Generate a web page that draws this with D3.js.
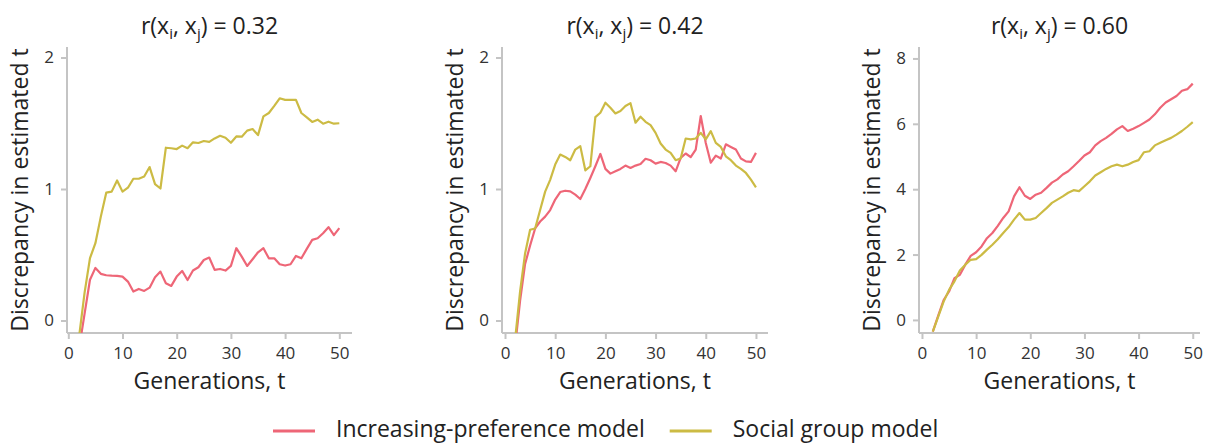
<!DOCTYPE html>
<html>
<head>
<meta charset="utf-8">
<script src="https://cdn.jsdelivr.net/npm/d3@7"></script>
<style>
  html, body { margin: 0; padding: 0; background: #fff; }
  svg { display: block; font-family: "Open Sans", Lato, sans-serif; }
</style>
</head>
<body>
<svg id="chart" width="1211" height="446"></svg>
<script>
// Generations shown on the x axis
const generations = d3.range(2, 51);

// Panel titles: correlation between traits
const correlations = ["0.32", "0.42", "0.60"];

// Series names and colours
const seriesNames = ["Increasing-preference model", "Social group model"];
const seriesColors = ["#EE6677", "#CCBB44"];

// Discrepancy in estimated t, r = 0.32
const pref032 = [-0.21, 0.05, 0.31, 0.40, 0.355, 0.344, 0.341, 0.339, 0.334, 0.296,
  0.22, 0.24, 0.225, 0.25, 0.329, 0.372, 0.283, 0.263, 0.334, 0.377,
  0.308, 0.38, 0.405, 0.46, 0.479, 0.385, 0.392, 0.38, 0.415, 0.55,
  0.486, 0.415, 0.466, 0.519, 0.55, 0.473, 0.473, 0.428, 0.418, 0.428,
  0.491, 0.473, 0.545, 0.613, 0.626, 0.664, 0.71, 0.649, 0.702];
const social032 = [-0.12, 0.21, 0.474, 0.588, 0.79, 0.972, 0.98, 1.065, 0.98, 1.01,
  1.078, 1.078, 1.095, 1.167, 1.037, 1.004, 1.314, 1.31, 1.304, 1.33,
  1.31, 1.355, 1.35, 1.365, 1.358, 1.385, 1.405, 1.39, 1.352, 1.40,
  1.398, 1.444, 1.456, 1.41, 1.552, 1.578, 1.632, 1.69, 1.678, 1.678,
  1.678, 1.578, 1.545, 1.51, 1.527, 1.497, 1.512, 1.497, 1.50];

// Discrepancy in estimated t, r = 0.42
const pref042 = [-0.2, 0.15, 0.43, 0.57, 0.70, 0.753, 0.79, 0.84, 0.92, 0.977,
  0.987, 0.982, 0.957, 0.924, 1.0, 1.084, 1.173, 1.267, 1.153, 1.117,
  1.135, 1.153, 1.178, 1.16, 1.178, 1.19, 1.23, 1.219, 1.193, 1.206,
  1.198, 1.178, 1.135, 1.237, 1.27, 1.242, 1.30, 1.555, 1.35, 1.20,
  1.254, 1.232, 1.34, 1.32, 1.30, 1.232, 1.21, 1.206, 1.275];
const social042 = [-0.15, 0.22, 0.51, 0.69, 0.70, 0.84, 0.98, 1.07, 1.186, 1.262,
  1.244, 1.219, 1.30, 1.326, 1.142, 1.173, 1.547, 1.58, 1.656, 1.618,
  1.575, 1.593, 1.631, 1.653, 1.504, 1.55, 1.511, 1.486, 1.427, 1.346,
  1.30, 1.275, 1.219, 1.232, 1.384, 1.377, 1.384, 1.427, 1.377, 1.44,
  1.351, 1.32, 1.249, 1.219, 1.178, 1.153, 1.122, 1.071, 1.013];

// Discrepancy in estimated t, r = 0.60
const pref060 = [-0.36, 0.13, 0.61, 0.87, 1.28, 1.38, 1.69, 1.96, 2.07, 2.25,
  2.5, 2.66, 2.88, 3.12, 3.32, 3.78, 4.06, 3.80, 3.70, 3.83,
  3.89, 4.04, 4.2, 4.3, 4.45, 4.55, 4.70, 4.86, 5.03, 5.13,
  5.34, 5.47, 5.57, 5.69, 5.83, 5.93, 5.78, 5.85, 5.93, 6.03,
  6.13, 6.29, 6.49, 6.65, 6.75, 6.85, 7.01, 7.06, 7.23];
const social060 = [-0.36, 0.10, 0.56, 0.92, 1.18, 1.51, 1.69, 1.84, 1.86, 1.99,
  2.15, 2.30, 2.47, 2.66, 2.84, 3.07, 3.27, 3.07, 3.07, 3.12,
  3.27, 3.42, 3.58, 3.68, 3.78, 3.89, 3.97, 3.94, 4.09, 4.24,
  4.42, 4.52, 4.62, 4.70, 4.75, 4.70, 4.75, 4.83, 4.89, 5.13,
  5.16, 5.34, 5.42, 5.50, 5.57, 5.67, 5.78, 5.91, 6.05];

// Tick values
const xTicks = [0, 10, 20, 30, 40, 50];
const yTicksSmall = [0, 1, 2];
const yTicksLarge = [0, 2, 4, 6, 8];

const panels = [
  { r: correlations[0], series: [pref032, social032], left: 67, right: 352,
    xDomain: [-0.24, 52.34], yDomain: [-0.095, 2.08], yTicks: yTicksSmall },
  { r: correlations[1], series: [pref042, social042], left: 502, right: 768,
    xDomain: [-0.6, 52.4], yDomain: [-0.095, 2.08], yTicks: yTicksSmall },
  { r: correlations[2], series: [pref060, social060], left: 919, right: 1200,
    xDomain: [-0.55, 51.34], yDomain: [-0.4, 8.35], yTicks: yTicksLarge }
];

const plotTop = 47, plotBottom = 333;
const axisColor = "#c4c4c4";
const textColor = "#222";
const labelSize = "23px";

const svg = d3.select("#chart");

panels.forEach((p, i) => {
  const x = d3.scaleLinear().domain(p.xDomain).range([p.left, p.right]);
  const y = d3.scaleLinear().domain(p.yDomain).range([plotBottom, plotTop]);
  const g = svg.append("g");

  const clipId = "clip" + i;
  svg.append("defs").append("clipPath").attr("id", clipId)
    .append("rect")
    .attr("x", p.left).attr("y", plotTop)
    .attr("width", p.right - p.left).attr("height", plotBottom - plotTop);

  // axes
  const xAxis = g.append("g")
    .attr("transform", `translate(0,${plotBottom})`)
    .call(d3.axisBottom(x).tickValues(xTicks).tickFormat(d3.format("d"))
      .tickSize(6).tickPadding(8));
  const yAxis = g.append("g")
    .attr("transform", `translate(${p.left},0)`)
    .call(d3.axisLeft(y).tickValues(p.yTicks).tickFormat(d3.format("d"))
      .tickSize(6).tickPadding(7));

  [xAxis, yAxis].forEach(a => {
    a.select(".domain").attr("stroke", axisColor).attr("stroke-width", 2);
    a.selectAll(".tick line").attr("stroke", axisColor).attr("stroke-width", 2);
    a.selectAll(".tick text")
      .attr("fill", "#333")
      .style("font-family", "'Open Sans', sans-serif")
      .style("font-size", "17px");
  });
  // spines without the outer tick caps
  xAxis.select(".domain").attr("d", `M${p.left},0H${p.right}`);
  yAxis.select(".domain").attr("d", `M0,${plotTop}V${plotBottom}`);

  // series lines
  const line = d3.line().x((d, k) => x(generations[k])).y(d => y(d));
  const lines = g.append("g").attr("clip-path", `url(#${clipId})`);
  p.series.forEach((vals, s) => {
    lines.append("path")
      .datum(vals)
      .attr("fill", "none")
      .attr("stroke", seriesColors[s])
      .attr("stroke-width", 2.2)
      .attr("stroke-linejoin", "round")
      .attr("d", line);
  });

  const cx = (p.left + p.right) / 2;

  // title r(x_i, x_j) = value
  const title = g.append("text")
    .attr("x", cx).attr("y", 34)
    .attr("text-anchor", "middle")
    .attr("fill", textColor)
    .style("font-size", "23px");
  title.append("tspan").text("r(x");
  title.append("tspan").text("i").attr("dy", 5).style("font-size", "15px");
  title.append("tspan").text(", x").attr("dy", -5);
  title.append("tspan").text("j").attr("dy", 5).style("font-size", "15px");
  title.append("tspan").text(") = " + p.r).attr("dy", -5);

  // axis labels
  g.append("text")
    .attr("x", cx).attr("y", 389)
    .attr("text-anchor", "middle")
    .attr("fill", textColor)
    .style("font-size", labelSize)
    .text("Generations, t");

  g.append("text")
    .attr("transform", `translate(${p.left - 47},${(plotTop + plotBottom) / 2}) rotate(-90)`)
    .attr("text-anchor", "middle")
    .attr("dy", "0.35em")
    .attr("fill", textColor)
    .style("font-size", labelSize)
    .text("Discrepancy in estimated t");
});

// legend
const legend = svg.append("g").attr("transform", "translate(273,431)");
let offset = 0;
seriesNames.forEach((name, s) => {
  const item = legend.append("g").attr("transform", `translate(${offset},0)`);
  item.append("line")
    .attr("x1", 0).attr("x2", 42)
    .attr("stroke", seriesColors[s]).attr("stroke-width", 3);
  const t = item.append("text")
    .attr("x", 63).attr("y", 6)
    .attr("fill", textColor)
    .style("font-size", labelSize)
    .text(name);
  offset += 63 + t.node().getComputedTextLength() + 25;
});
</script>
</body>
</html>
